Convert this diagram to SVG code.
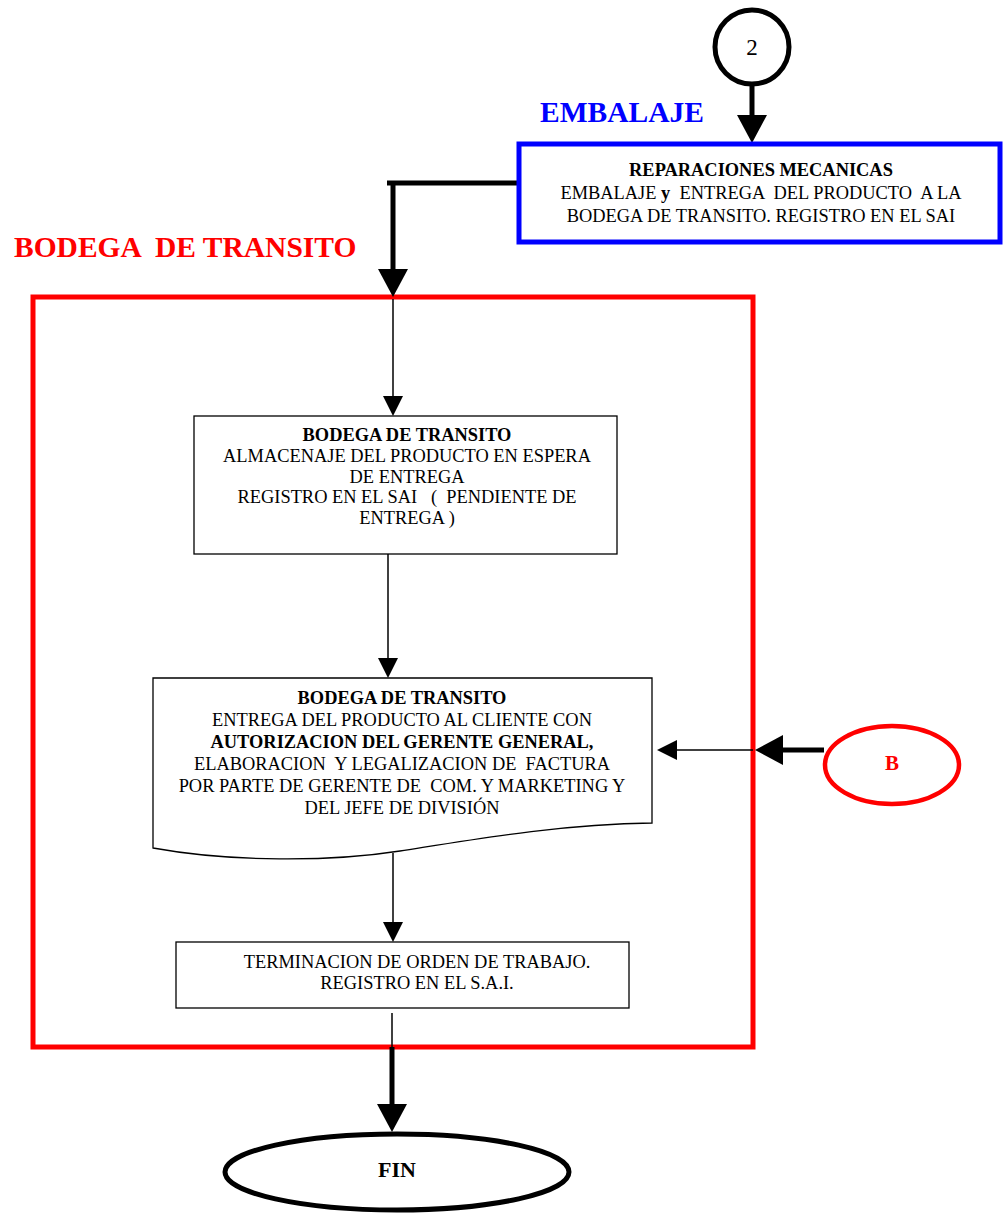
<svg xmlns="http://www.w3.org/2000/svg" width="1003" height="1214" viewBox="0 0 1003 1214">
  <style>
    text { font-family: "Liberation Serif", "Times New Roman", serif; fill: #000; }
    .body { font-size: 18.4px; text-anchor: middle; }
    .b { font-weight: bold; }
    .title { font-size: 29.5px; font-weight: bold; }
    .box { fill: #fff; stroke: #000; stroke-width: 1.3; }
    .thin { fill: none; stroke: #000; stroke-width: 1.5; }
    .thick { fill: none; stroke: #000; stroke-width: 5; }
  </style>
  <defs>
    <marker id="head-lg" markerUnits="userSpaceOnUse" markerWidth="30" markerHeight="30" viewBox="0 0 28 30" refX="0" refY="15" orient="auto">
      <path d="M0,0 L28,15 L0,30 Z" fill="#000"/>
    </marker>
    <marker id="head-sm" markerUnits="userSpaceOnUse" markerWidth="20" markerHeight="20" viewBox="0 0 20 20" refX="0" refY="10" orient="auto">
      <path d="M0,0 L20,10 L0,20 Z" fill="#000"/>
    </marker>
  </defs>

  <rect width="1003" height="1214" fill="#fff"/>

  <!-- section headings -->
  <text x="540" y="122" class="title" style="fill:#0000ff">EMBALAJE</text>
  <text x="14" y="257" class="title" style="fill:#ff0000" xml:space="preserve">BODEGA  DE TRANSITO</text>

  <!-- red frame around the transit warehouse steps -->
  <rect id="frame-bodega" x="33" y="297" width="720" height="750" fill="none" stroke="#ff0000" stroke-width="5"/>

  <!-- connectors -->
  <g id="connectors">
    <path class="thick" d="M752,86 V115" marker-end="url(#head-lg)"/>
    <path class="thick" d="M519,183 H387"/>
    <path class="thick" d="M393,181 V269" marker-end="url(#head-lg)"/>
    <path class="thin" d="M393,299 V396" marker-end="url(#head-sm)"/>
    <path class="thin" d="M388,554 V658" marker-end="url(#head-sm)"/>
    <path class="thin" d="M393,853 V922" marker-end="url(#head-sm)"/>
    <path class="thin" d="M392,1013 V1047"/>
    <path class="thick" d="M392,1047 V1104" marker-end="url(#head-lg)"/>
    <path class="thick" d="M824,750 H783" marker-end="url(#head-lg)"/>
    <path class="thin" d="M753,750 H677" marker-end="url(#head-sm)"/>
  </g>

  <!-- connector 2 -->
  <g id="node-2">
    <circle cx="752" cy="47" r="37" fill="#fff" stroke="#000" stroke-width="5"/>
    <text x="752" y="55" style="font-size:23px" text-anchor="middle">2</text>
  </g>

  <!-- packing step -->
  <g id="node-embalaje">
    <rect x="519" y="144" width="481" height="98" fill="#fff" stroke="#0000ff" stroke-width="5"/>
    <text x="761" y="176" class="body b">REPARACIONES MECANICAS</text>
    <text x="761" y="199" class="body" xml:space="preserve">EMBALAJE <tspan class="b">y</tspan>  ENTREGA  DEL PRODUCTO  A LA</text>
    <text x="761" y="222" class="body">BODEGA DE TRANSITO. REGISTRO EN EL SAI</text>
  </g>

  <!-- storage step -->
  <g id="node-almacenaje">
    <rect x="194" y="416" width="423" height="138" class="box"/>
    <text x="407" y="441" class="body b">BODEGA DE TRANSITO</text>
    <text x="407" y="462" class="body">ALMACENAJE DEL PRODUCTO EN ESPERA</text>
    <text x="407" y="482.5" class="body">DE ENTREGA</text>
    <text x="407" y="503" class="body" xml:space="preserve">REGISTRO EN EL SAI   (  PENDIENTE DE</text>
    <text x="407" y="523.5" class="body">ENTREGA )</text>
  </g>

  <!-- delivery step (document shape) -->
  <g id="node-entrega">
    <path class="box" d="M153,678 H652 V823 C560,824 470,840 400,851 C330,862 230,862 153,848 Z"/>
    <text x="402" y="704" class="body b">BODEGA DE TRANSITO</text>
    <text x="402" y="726" class="body">ENTREGA DEL PRODUCTO AL CLIENTE CON</text>
    <text x="402" y="748" class="body b">AUTORIZACION DEL GERENTE GENERAL,</text>
    <text x="402" y="770" class="body" xml:space="preserve">ELABORACION  Y LEGALIZACION DE  FACTURA</text>
    <text x="402" y="792" class="body" xml:space="preserve">POR PARTE DE GERENTE DE  COM. Y MARKETING Y</text>
    <text x="402" y="814" class="body">DEL JEFE DE DIVISIÓN</text>
  </g>

  <!-- work order closing -->
  <g id="node-terminacion">
    <rect x="176" y="942" width="453" height="66" class="box"/>
    <text x="417" y="968" class="body">TERMINACION DE ORDEN DE TRABAJO.</text>
    <text x="417" y="989" class="body">REGISTRO EN EL S.A.I.</text>
  </g>

  <!-- off-page connector B -->
  <g id="node-b">
    <ellipse cx="892" cy="765" rx="67" ry="39" fill="#fff" stroke="#ff0000" stroke-width="4.5"/>
    <text x="892" y="770" style="font-size:21px;font-weight:bold;fill:#ff0000" text-anchor="middle">B</text>
  </g>

  <!-- end terminal -->
  <g id="node-fin">
    <ellipse cx="397" cy="1172" rx="172" ry="38" fill="#fff" stroke="#000" stroke-width="5"/>
    <text x="397" y="1177" style="font-size:22px;font-weight:bold" text-anchor="middle">FIN</text>
  </g>
</svg>
